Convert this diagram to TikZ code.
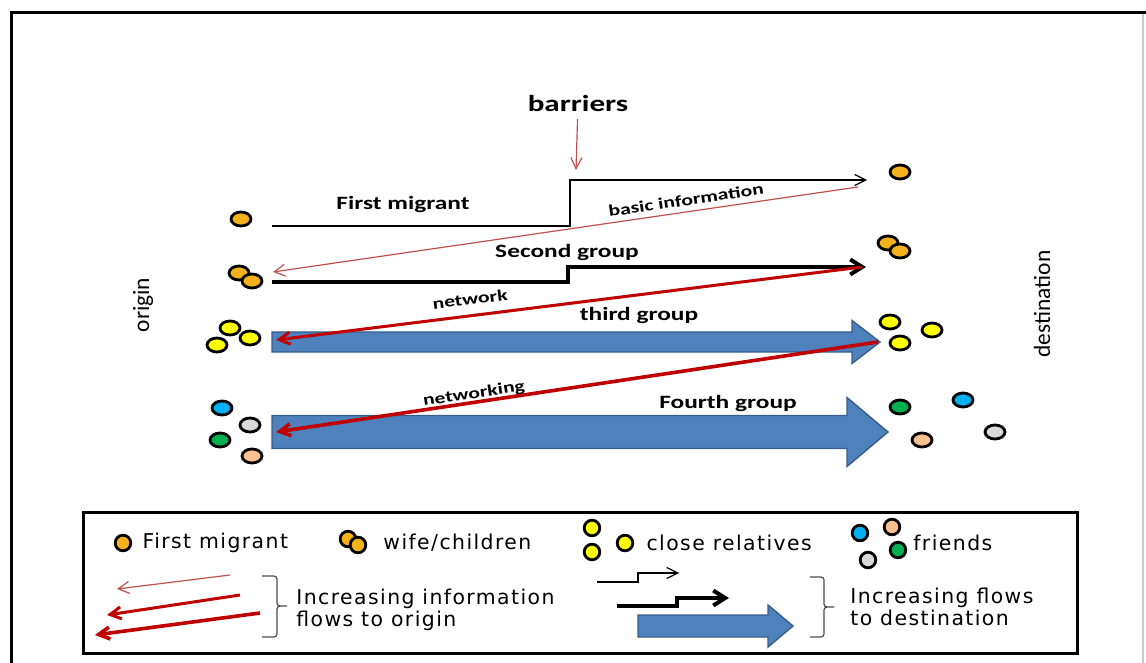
\documentclass[tikz,border=0pt]{standalone}
\usepackage{fontspec}
\setmainfont{Carlito}
\newfontfamily\widefont[FakeStretch=1.35]{Carlito}
\newfontfamily\legfont[LetterSpace=7]{DejaVu Sans}
\usetikzlibrary{arrows.meta,positioning,shapes.geometric}

\definecolor{gold}{HTML}{F3B21C}
\definecolor{lemon}{HTML}{FFFF00}
\definecolor{sky}{HTML}{00B0F0}
\definecolor{leaf}{HTML}{00B050}
\definecolor{ash}{HTML}{D9D9D9}
\definecolor{peach}{HTML}{FAC090}
\definecolor{infored}{HTML}{C00000}
\definecolor{paleinfo}{HTML}{C0504D}
\definecolor{flowblue}{HTML}{4F81BD}
\definecolor{flowedge}{HTML}{385D8A}

\begin{document}
\begin{tikzpicture}[x=0.5pt,y=-0.5pt,
	person/.style={ellipse,draw,line width=1.4pt,minimum width=10pt,minimum height=7pt,inner sep=0pt},
	keyperson/.style={circle,draw,line width=1.4pt,minimum size=7.8pt,inner sep=0pt},
	grouplabel/.style={font=\widefont\bfseries\fontsize{9.4}{11}\selectfont},
	infolabel/.style={font=\widefont\bfseries\fontsize{8}{10}\selectfont},
	sidelabel/.style={font=\fontsize{11.7}{14}\selectfont,rotate=90},
	legtext/.style={font=\legfont\fontsize{10.2}{11}\selectfont,align=left,inner sep=0pt},
	thinflow/.style={-{Straight Barb[length=5.5pt,width=5.5pt]},line width=0.6pt},
	boldflow/.style={-{Straight Barb[length=6pt,width=7.5pt]},line width=2pt},
	info/.style={-{Straight Barb[length=5.5pt,width=6pt]},draw=infored},
	flow/.style={draw=flowedge,fill=flowblue,line width=0.7pt},
	bracket/.style={draw=black!70,line width=0.6pt,rounded corners=1.5pt}]

	\useasboundingbox (0,0) rectangle (1146,663);
	\draw[line width=1.5pt] (11,663) -- (11,13) -- (1146,13);
	\draw[black!20,line width=0.6pt] (1143,14) -- (1143,663);

	\node[sidelabel] (orig) at (143,305) {origin};
	\node[sidelabel] (dest) at (1042,304) {destination};
	\node[font=\widefont\bfseries\fontsize{11.5}{14}\selectfont] (bar) at (578,104) {barriers};

	\node[person, fill=gold]  (o1)  at (241,219) {};
	\node[person, fill=gold]  (o2a) at (239,273) {};
	\node[person, fill=gold]  (o2b) at (252,281) {};
	\node[person, fill=lemon] (o3a) at (230,328) {};
	\node[person, fill=lemon] (o3b) at (217,345) {};
	\node[person, fill=lemon] (o3c) at (250,338) {};
	\node[person, fill=sky]   (o4a) at (222,408) {};
	\node[person, fill=ash]   (o4b) at (250,425) {};
	\node[person, fill=leaf]  (o4c) at (220,440) {};
	\node[person, fill=peach] (o4d) at (252,456) {};

	\node[person, fill=gold]  (d1)  at (900,172) {};
	\node[person, fill=gold]  (d2a) at (888,243) {};
	\node[person, fill=gold]  (d2b) at (900,251) {};
	\node[person, fill=lemon] (d3a) at (890,322) {};
	\node[person, fill=lemon] (d3b) at (932,330) {};
	\node[person, fill=lemon] (d3c) at (900,343) {};
	\node[person, fill=leaf]  (d4a) at (900,407) {};
	\node[person, fill=sky]   (d4b) at (963,400) {};
	\node[person, fill=peach] (d4c) at (922,440) {};
	\node[person, fill=ash]   (d4d) at (995,432) {};

	\coordinate (fm-s) at (272,226);
	\coordinate (fm-e) at (867,180);
	\coordinate (sg-s) at (272,282);
	\coordinate (sg-e) at (866,267);
	\coordinate (tg-s) at (272,342);
	\coordinate (tg-e) at (880,342);
	\coordinate (fg-s) at (272,432);
	\coordinate (fg-e) at (888,432);
	\coordinate (bar-e) at (576,170);
	\coordinate (bi-s) at (858,187);
	\coordinate (bi-e) at (273,272);
	\coordinate (nw-s) at (862,267);
	\coordinate (nw-e) at (276,340);
	\coordinate (nk-s) at (878,342);
	\coordinate (nk-e) at (276,432);

	\filldraw[flow] (tg-s) ++(0,-10) -- ++(580,0) -- ++(0,-11.5) -- (tg-e)
		-- ++(-28,21.5) -- ++(0,-11.5) -- ++(-580,0) -- cycle;
	\filldraw[flow] (fg-s) ++(0,-16.5) -- ++(575,0) -- ++(0,-18) -- (fg-e)
		-- ++(-41,34.5) -- ++(0,-18) -- ++(-575,0) -- cycle;

	\draw[thinflow] (fm-s) -- ++(298,0) |- (fm-e);
	\draw[boldflow] (sg-s) -- ++(296,0) |- (sg-e);
	\draw[thinflow, paleinfo] (bar) -- (bar-e);
	\draw[info, draw=paleinfo, line width=0.6pt] (bi-s) -- (bi-e);
	\draw[info, line width=1.5pt] (nw-s) -- (nw-e);
	\draw[info, line width=1.8pt] (nk-s) -- (nk-e);

	\node[grouplabel] (fml) at (403,204) {First migrant};
	\node[grouplabel] (sgl) at (567,252) {Second group};
	\node[grouplabel] (tgl) at (639,315) {third group};
	\node[grouplabel] (fgl) at (728,403) {Fourth group};
	\node[infolabel, rotate=8.3] (bil) at (686,200) {basic information};
	\node[infolabel, rotate=7.1] (nwl) at (470,299) {network};
	\node[infolabel, rotate=8.5] (nkl) at (474,394) {networking};

	\draw[line width=1.5pt] (83,512) rectangle (1077,653);

	\node[keyperson, fill=gold]  (lg1)  at (123,543) {};
	\node[keyperson, fill=gold]  (lg2a) at (348,539) {};
	\node[keyperson, fill=gold]  (lg2b) at (358,545) {};
	\node[keyperson, fill=lemon] (lg3a) at (592,528) {};
	\node[keyperson, fill=lemon] (lg3b) at (592,552) {};
	\node[keyperson, fill=lemon] (lg3c) at (625,543) {};
	\node[keyperson, fill=sky]   (lg4a) at (860,533) {};
	\node[keyperson, fill=peach] (lg4b) at (892,527) {};
	\node[keyperson, fill=ash]   (lg4c) at (868,560) {};
	\node[keyperson, fill=leaf]  (lg4d) at (898,550) {};

	\node[legtext] (lt1) [right=5pt of lg1]  {First migrant};
	\node[legtext, anchor=west] (lt2) at (383,543) {wife/children};
	\node[legtext] (lt3) [right=6pt of lg3c] {close relatives};
	\node[legtext, anchor=west] (lt4) at (913,543) {friends};

	\coordinate (la1s) at (230,575);
	\coordinate (la1e) at (117,589);
	\coordinate (la2s) at (240,595);
	\coordinate (la2e) at (107,615);
	\coordinate (la3s) at (260,613);
	\coordinate (la3e) at (95,635);
	\draw[info, draw=paleinfo, line width=0.6pt] (la1s) -- (la1e);
	\draw[info, line width=1.5pt] (la2s) -- (la2e);
	\draw[info, line width=1.8pt] (la3s) -- (la3e);
	\draw[bracket] (262,576) -| (277,606) -- ++(12,0) -- ++(-12,0) |- (262,637);
	\node[legtext, anchor=north west] (lt5) at (296,589) {Increasing information\\flows to origin};

	\coordinate (ra1s) at (597,582);
	\coordinate (ra1e) at (679,573);
	\coordinate (ra2s) at (617,606);
	\coordinate (ra2e) at (729,598);
	\coordinate (rb-s) at (638,626);
	\coordinate (rb-e) at (793,626);
	\draw[thinflow] (ra1s) -- ++(41,0) |- (ra1e);
	\draw[boldflow] (ra2s) -- ++(60,0) |- (ra2e);
	\filldraw[flow] (rb-s) ++(0,-11) -- ++(130,0) -- ++(0,-10) -- (rb-e)
		-- ++(-25,21) -- ++(0,-10) -- ++(-130,0) -- cycle;
	\draw[bracket] (810,577) -| (824,607) -- ++(12,0) -- ++(-12,0) |- (810,637);
	\node[legtext, anchor=north west] (lt6) at (850,588) {Increasing flows\\to destination};
\end{tikzpicture}
\end{document}
